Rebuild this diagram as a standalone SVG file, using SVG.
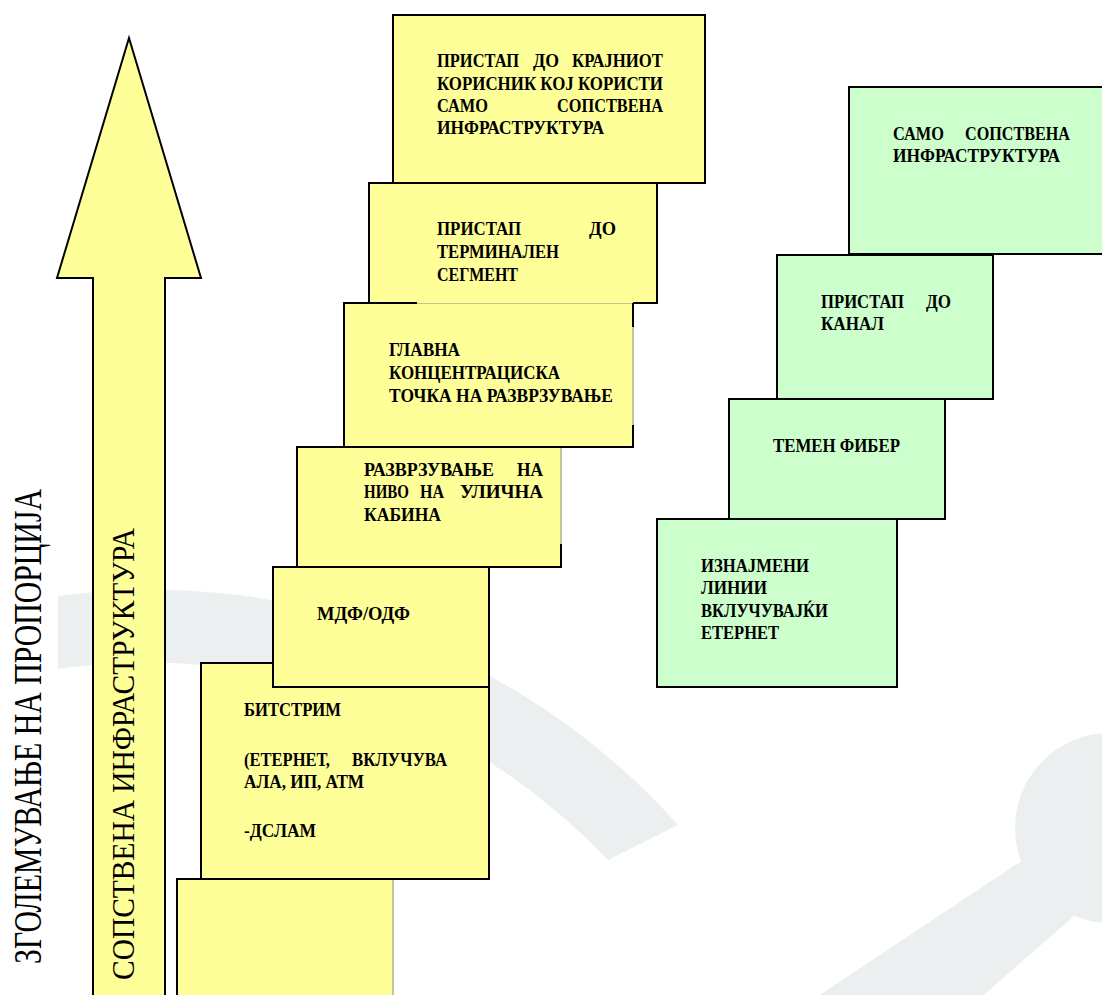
<svg xmlns="http://www.w3.org/2000/svg" width="1102" height="995" viewBox="0 0 1102 995">
<style>
.wm{fill:#ECEFF0;stroke:none}
.y{fill:#FFFF99}
.g{fill:#CCFFCC}
.bk{fill:none;stroke:#000;stroke-width:2}
.gr{fill:none;stroke:#8A8A70;stroke-width:1}
.t{font-family:"Liberation Serif","Times New Roman",serif;font-weight:bold;font-size:19px;fill:#000}
.v{font-family:"Liberation Serif","Times New Roman",serif;fill:#000}
</style>
<rect width="1102" height="995" fill="#fff"/>
<g id="watermark">
<path class="wm" d="M58,596 A707,707 0 0,1 678,825 L608,860 A635,635 0 0,0 58,669 Z"/>
<circle class="wm" cx="1110" cy="828" r="95"/>
<polygon class="wm" points="1020,862 1090,840 1073,917 978,1000 812,1000"/>
</g>
<g id="arrow">
<polygon points="129,38 201,278 165,278 165,1000 93,1000 93,278 57,278" fill="#FFFF99" stroke="#000" stroke-width="2" stroke-linejoin="miter"/>
<text class="v" font-size="31" transform="translate(134,980) rotate(-90)" textLength="452" lengthAdjust="spacingAndGlyphs">СОПСТВЕНА ИНФРАСТРУКТУРА</text>
</g>
<g id="axis-label">
<text class="v" font-size="40" transform="translate(41,964) rotate(-90)" textLength="475" lengthAdjust="spacingAndGlyphs">ЗГОЛЕМУВАЊЕ НА ПРОПОРЦИЈА</text>
</g>
<g id="connectors"></g>
<g id="box7">
<rect class="y" x="177" y="879" width="216" height="130"/>
<path class="gr" d="M393,879 V1000"/>
<path class="bk" d="M393,879 H177 V1000"/>
</g>
<g id="box6">
<rect class="y bk" x="201" y="663" width="288" height="216" style="fill:#FFFF99"/>
<text class="t" x="244" y="716" textLength="97" lengthAdjust="spacingAndGlyphs">БИТСТРИМ</text>
<text class="t" x="244" y="766" textLength="86" lengthAdjust="spacingAndGlyphs">(ЕТЕРНЕТ,</text>
<text class="t" x="352" y="766" textLength="95" lengthAdjust="spacingAndGlyphs">ВКЛУЧУВА</text>
<text class="t" x="244" y="788" textLength="120" lengthAdjust="spacingAndGlyphs">АЛА, ИП, АТМ</text>
<text class="t" x="244" y="837" textLength="72" lengthAdjust="spacingAndGlyphs">-ДСЛАМ</text>
</g>
<g id="box5">
<rect class="bk" x="273" y="567" width="216" height="120" style="fill:#FFFF99"/>
<text class="t" x="317" y="620" textLength="93" lengthAdjust="spacingAndGlyphs">МДФ/ОДФ</text>
</g>
<g id="box4">
<rect class="y" x="297" y="447" width="264" height="120"/>
<path class="gr" d="M561,447 V544"/>
<path class="bk" d="M561,544 V567 H297 V447 H561"/>
<text class="t" x="364" y="476" textLength="130" lengthAdjust="spacingAndGlyphs">РАЗВРЗУВАЊЕ</text>
<text class="t" x="517" y="476" textLength="26" lengthAdjust="spacingAndGlyphs">НА</text>
<text class="t" x="364" y="498" textLength="45" lengthAdjust="spacingAndGlyphs">НИВО</text>
<text class="t" x="420" y="498" textLength="24" lengthAdjust="spacingAndGlyphs">НА</text>
<text class="t" x="460" y="498" textLength="83" lengthAdjust="spacingAndGlyphs">УЛИЧНА</text>
<text class="t" x="364" y="521" textLength="77" lengthAdjust="spacingAndGlyphs">КАБИНА</text>
</g>
<g id="box3">
<rect class="y" x="344" y="303" width="289" height="144"/>
<path class="gr" d="M417,303 H633 M633,327 V425"/>
<path class="bk" d="M417,303 H344 V447 H633 V425 M633,327 V303"/>
<text class="t" x="389" y="356" textLength="71" lengthAdjust="spacingAndGlyphs">ГЛАВНА</text>
<text class="t" x="389" y="379" textLength="171" lengthAdjust="spacingAndGlyphs">КОНЦЕНТРАЦИСКА</text>
<text class="t" x="389" y="402" textLength="224" lengthAdjust="spacingAndGlyphs">ТОЧКА НА РАЗВРЗУВАЊЕ</text>
</g>
<g id="box2">
<rect class="y" x="369" y="183" width="288" height="120"/>
<path class="bk" d="M417,303 H369 V183 H657 V303 H633"/>
<text class="t" x="437" y="235" textLength="84" lengthAdjust="spacingAndGlyphs">ПРИСТАП</text>
<text class="t" x="589" y="235" textLength="27" lengthAdjust="spacingAndGlyphs">ДО</text>
<text class="t" x="437" y="258" textLength="122" lengthAdjust="spacingAndGlyphs">ТЕРМИНАЛЕН</text>
<text class="t" x="437" y="281" textLength="81" lengthAdjust="spacingAndGlyphs">СЕГМЕНТ</text>
</g>
<g id="box1">
<rect class="bk" x="393" y="15" width="312" height="168" style="fill:#FFFF99"/>
<text class="t" x="437" y="67" textLength="82" lengthAdjust="spacingAndGlyphs">ПРИСТАП</text>
<text class="t" x="533" y="67" textLength="26" lengthAdjust="spacingAndGlyphs">ДО</text>
<text class="t" x="572" y="67" textLength="91" lengthAdjust="spacingAndGlyphs">КРАЈНИОТ</text>
<text class="t" x="437" y="90" textLength="226" lengthAdjust="spacingAndGlyphs">КОРИСНИК КОЈ КОРИСТИ</text>
<text class="t" x="437" y="112" textLength="51" lengthAdjust="spacingAndGlyphs">САМО</text>
<text class="t" x="557" y="112" textLength="106" lengthAdjust="spacingAndGlyphs">СОПСТВЕНА</text>
<text class="t" x="437" y="134" textLength="167" lengthAdjust="spacingAndGlyphs">ИНФРАСТРУКТУРА</text>
</g>
<g id="green1">
<rect class="bk" x="849" y="87" width="270" height="167" style="fill:#CCFFCC"/>
<text class="t" x="893" y="140" textLength="51" lengthAdjust="spacingAndGlyphs">САМО</text>
<text class="t" x="965" y="140" textLength="105" lengthAdjust="spacingAndGlyphs">СОПСТВЕНА</text>
<text class="t" x="893" y="162" textLength="167" lengthAdjust="spacingAndGlyphs">ИНФРАСТРУКТУРА</text>
</g>
<g id="green2">
<rect class="bk" x="777" y="255" width="216" height="144" style="fill:#CCFFCC"/>
<text class="t" x="821" y="308" textLength="83" lengthAdjust="spacingAndGlyphs">ПРИСТАП</text>
<text class="t" x="926" y="308" textLength="25" lengthAdjust="spacingAndGlyphs">ДО</text>
<text class="t" x="821" y="330" textLength="63" lengthAdjust="spacingAndGlyphs">КАНАЛ</text>
</g>
<g id="green3">
<rect class="bk" x="729" y="399" width="216" height="120" style="fill:#CCFFCC"/>
<text class="t" x="773" y="452" textLength="127" lengthAdjust="spacingAndGlyphs">ТЕМЕН ФИБЕР</text>
</g>
<g id="green4">
<rect class="bk" x="657" y="519" width="240" height="168" style="fill:#CCFFCC"/>
<text class="t" x="701" y="572" textLength="108" lengthAdjust="spacingAndGlyphs">ИЗНАЈМЕНИ</text>
<text class="t" x="701" y="594" textLength="66" lengthAdjust="spacingAndGlyphs">ЛИНИИ</text>
<text class="t" x="701" y="617" textLength="127" lengthAdjust="spacingAndGlyphs">ВКЛУЧУВАЈЌИ</text>
<text class="t" x="701" y="639" textLength="78" lengthAdjust="spacingAndGlyphs">ЕТЕРНЕТ</text>
</g>
</svg>
